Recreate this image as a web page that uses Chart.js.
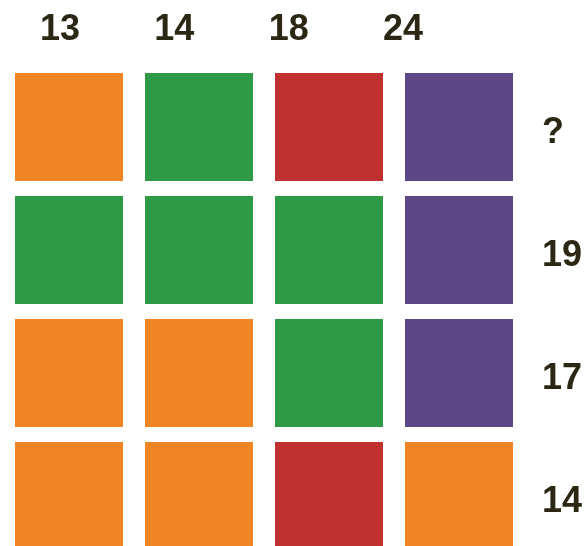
<!DOCTYPE html>
<html>
<head>
<meta charset="utf-8">
<script src="https://cdn.jsdelivr.net/npm/chart.js@4.4.0/dist/chart.umd.min.js"></script>
<style>
  html, body { margin: 0; padding: 0; background: #fff; }
  #wrap { width: 584px; height: 546px; position: relative; }
</style>
</head>
<body>
<div id="wrap"><canvas id="grid"></canvas></div>
<script>
// column sums shown on top, row sums shown on the right
const colLabels = ['13', '14', '18', '24'];
const rowLabels = ['?', '19', '17', '14'];

// cell colours, row by row (O = orange, G = green, R = red, P = purple)
const row1 = ['O', 'G', 'R', 'P'];
const row2 = ['G', 'G', 'G', 'P'];
const row3 = ['O', 'O', 'G', 'P'];
const row4 = ['O', 'O', 'R', 'O'];
const rowsData = [row1, row2, row3, row4];

const colores = {
  O: '#EF8524',
  G: '#2E9A45',
  R: '#C0302F',
  P: '#5E4787'
};
const textColor = '#2B2714';
const fuente = '"Liberation Sans", Arial, sans-serif';

// one scatter dataset per colour, each cell is a square point
const datasets = Object.keys(colores).map(key => {
  let puntos = [];
  rowsData.forEach((fila, j) => {
    fila.forEach((c, i) => {
      if (c === key) puntos.push({ x: i, y: j });
    });
  });
  return {
    data: puntos,
    pointStyle: 'rect',
    pointRadius: 108 / (2 * Math.SQRT1_2),
    pointHoverRadius: 108 / (2 * Math.SQRT1_2),
    pointBackgroundColor: colores[key],
    pointBorderWidth: 0,
    borderWidth: 0,
    showLine: false,
    clip: false
  };
});

const ctx = document.getElementById('grid').getContext('2d');
new Chart(ctx, {
  type: 'scatter',
  data: { datasets: datasets },
  options: {
    responsive: true,
    maintainAspectRatio: false,
    animation: false,
    events: [],
    layout: { padding: 0, autoPadding: false },
    plugins: { legend: { display: false }, tooltip: { enabled: false } },
    scales: {
      x: { display: false, min: -69 / 130, max: (514 - 69) / 130 },
      y: { display: false, reverse: true, min: -67 / 123, max: (486 - 67) / 123 },
      x2: {
        position: 'top',
        min: -60 / 114.33,
        max: (514 - 60) / 114.33,
        grid: { display: false, drawTicks: false },
        border: { display: false },
        afterFit: (s) => {
          s.height = 60;
          s.paddingLeft = 0; s.paddingRight = 0; s.paddingTop = 0; s.paddingBottom = 0;
        },
        afterBuildTicks: (s) => { s.ticks = colLabels.map((l, i) => ({ value: i })); },
        ticks: {
          autoSkip: false,
          maxRotation: 0,
          padding: 8,
          color: textColor,
          font: { family: fuente, size: 36, weight: 'bold' },
          callback: (v, i) => colLabels[i]
        }
      },
      y2: {
        position: 'right',
        reverse: true,
        min: -73 / 123,
        max: (486 - 73) / 123,
        grid: { display: false, drawTicks: false },
        border: { display: false },
        afterFit: (s) => {
          s.width = 70;
          s.paddingLeft = 0; s.paddingRight = 0; s.paddingTop = 0; s.paddingBottom = 0;
        },
        afterBuildTicks: (s) => { s.ticks = rowLabels.map((l, i) => ({ value: i })); },
        ticks: {
          autoSkip: false,
          padding: 28,
          color: textColor,
          font: { family: fuente, size: 36, weight: 'bold' },
          callback: (v, i) => rowLabels[i]
        }
      }
    }
  }
});
</script>
</body>
</html>
